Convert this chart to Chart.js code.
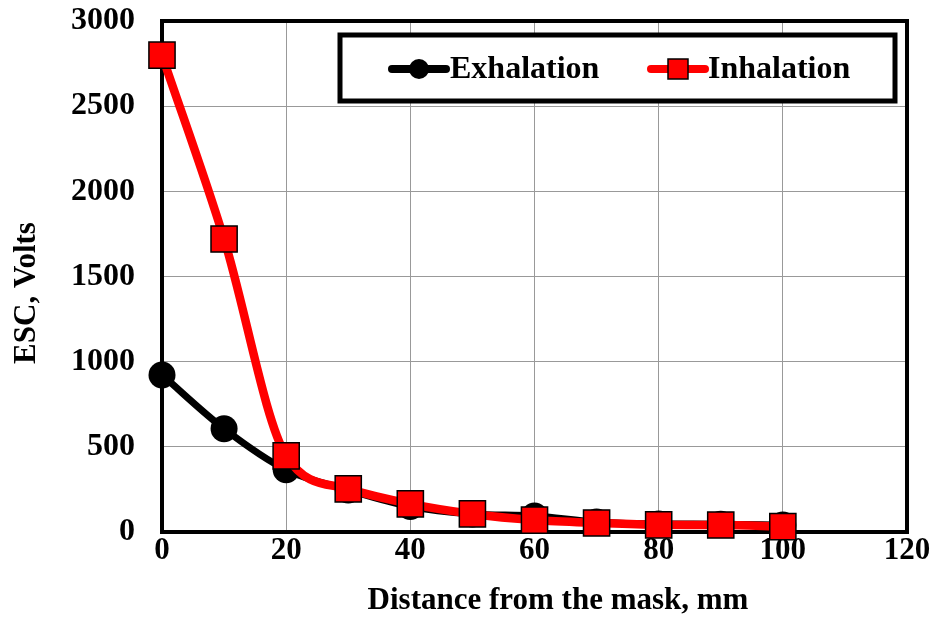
<!DOCTYPE html>
<html>
<head>
<meta charset="utf-8">
<script src="https://cdn.jsdelivr.net/npm/chart.js@4/dist/chart.umd.min.js"></script>
<style>
  html, body { margin: 0; padding: 0; background: #fff; }
  #wrap { width: 936px; height: 620px; }
</style>
</head>
<body>
<div id="wrap"><canvas id="escChart"></canvas></div>
<script>
// Data
const distances = [0, 10, 20, 30, 40, 50, 60, 70, 80, 90, 100];
const exhalation = [922, 606, 365, 247, 150, 106, 94, 59, 47, 46, 41];
const inhalation = [2800, 1720, 447, 253, 165, 106, 70, 53, 42, 41, 32];
const seriesNames = ['Exhalation', 'Inhalation'];
const xTitle = 'Distance from the mask, mm';
const yTitle = 'ESC, Volts';

const FONT = '"Liberation Serif", "Times New Roman", serif';

// Thick frame around the plot area (drawn before the marks)
const framePlugin = {
    id: 'frame',
    beforeDatasetsDraw(chart) {
        const a = chart.chartArea;
        const ctx = chart.ctx;
        ctx.save();
        ctx.strokeStyle = '#000';
        ctx.lineWidth = 4;
        ctx.strokeRect(a.left, a.top, a.right - a.left, a.bottom - a.top);
        ctx.restore();
    }
};

// Axis titles, placed where they sit in the figure
const axisTitlePlugin = {
    id: 'axisTitles',
    afterDraw(chart) {
        const ctx = chart.ctx;
        ctx.save();
        ctx.fillStyle = '#000';
        ctx.font = 'bold 31px ' + FONT;
        ctx.textAlign = 'center';
        ctx.textBaseline = 'middle';
        ctx.fillText(xTitle, 558, 601);
        ctx.translate(27, 293);
        ctx.rotate(-Math.PI / 2);
        ctx.fillText(yTitle, 0, 0);
        ctx.restore();
    }
};

// Boxed legend inside the plot, top right
const legendBoxPlugin = {
    id: 'legendBox',
    afterDraw(chart) {
        const ctx = chart.ctx;
        ctx.save();
        ctx.strokeStyle = '#000';
        ctx.lineWidth = 5;
        ctx.fillStyle = '#fff';
        ctx.fillRect(340, 35, 555, 66);
        ctx.strokeRect(340, 35, 555, 66);

        ctx.font = 'bold 32px ' + FONT;
        ctx.textBaseline = 'middle';
        const y = 69;

        // Exhalation entry
        ctx.lineCap = 'round';
        ctx.strokeStyle = '#000';
        ctx.lineWidth = 8;
        ctx.beginPath(); ctx.moveTo(392, y); ctx.lineTo(446, y); ctx.stroke();
        ctx.fillStyle = '#000';
        ctx.beginPath(); ctx.arc(419, y, 10, 0, Math.PI * 2); ctx.fill();
        ctx.fillText(seriesNames[0], 450, y + 1);

        // Inhalation entry
        ctx.strokeStyle = '#ff0000';
        ctx.beginPath(); ctx.moveTo(651, y); ctx.lineTo(705, y); ctx.stroke();
        ctx.fillStyle = '#ff0000';
        ctx.fillRect(668, y - 10, 20, 20);
        ctx.lineWidth = 1.5;
        ctx.strokeStyle = '#000';
        ctx.strokeRect(668, y - 10, 20, 20);
        ctx.fillStyle = '#000';
        ctx.fillText(seriesNames[1], 708, y + 1);
        ctx.restore();
    }
};

const escChart = new Chart(document.getElementById('escChart'), {
    type: 'line',
    data: {
        labels: distances,
        datasets: [{
            label: seriesNames[0],
            data: distances.map((d, i) => ({ x: d, y: exhalation[i] })),
            borderColor: '#000',
            backgroundColor: '#000',
            borderWidth: 7,
            pointStyle: 'circle',
            pointRadius: 13.5,
            pointBorderWidth: 0,
            cubicInterpolationMode: 'monotone',
            clip: false,
            order: 2
        }, {
            label: seriesNames[1],
            data: distances.map((d, i) => ({ x: d, y: inhalation[i] })),
            borderColor: '#ff0000',
            backgroundColor: '#ff0000',
            pointBorderColor: '#000',
            pointBorderWidth: 1.5,
            borderWidth: 8.5,
            pointStyle: 'rect',
            pointRadius: 18.5,
            cubicInterpolationMode: 'monotone',
            clip: false,
            order: 1
        }]
    },
    options: {
        responsive: true,
        maintainAspectRatio: false,
        animation: false,
        layout: { padding: { top: 21, right: 29, left: 0, bottom: 0 } },
        scales: {
            x: {
                type: 'linear',
                min: 0,
                max: 120,
                ticks: {
                    stepSize: 20,
                    color: '#000',
                    padding: 0,
                    maxRotation: 0,
                    font: { family: FONT, size: 31, weight: 'bold' }
                },
                grid: { color: '#999', lineWidth: 1, drawTicks: false },
                border: { display: false },
                afterFit(scale) {
                    scale.height = 88;
                    scale.paddingLeft = 0;
                    scale.paddingRight = 0;
                }
            },
            y: {
                min: 0,
                max: 3000,
                ticks: {
                    stepSize: 500,
                    color: '#000',
                    padding: 27,
                    callback: v => String(v),
                    font: { family: FONT, size: 32, weight: 'bold' }
                },
                grid: { color: '#999', lineWidth: 1, drawTicks: false },
                border: { display: false },
                afterFit(scale) {
                    scale.width = 162;
                    scale.paddingTop = 0;
                    scale.paddingBottom = 0;
                }
            }
        },
        plugins: {
            legend: { display: false },
            tooltip: { enabled: false }
        }
    },
    plugins: [framePlugin, axisTitlePlugin, legendBoxPlugin]
});
</script>
</body>
</html>
